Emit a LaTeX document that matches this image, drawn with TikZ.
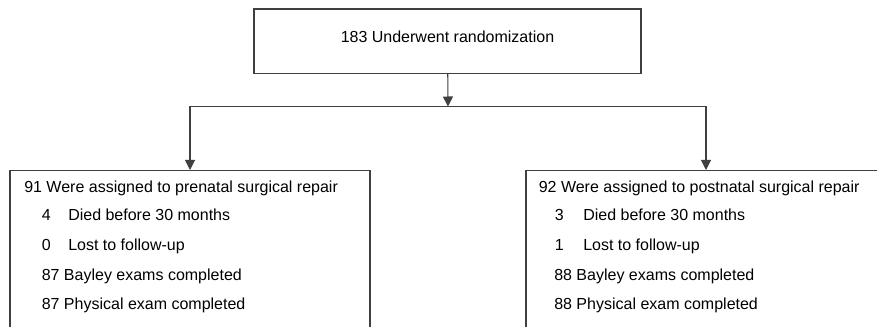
\documentclass[tikz,border=0pt]{standalone}
\usepackage{fontspec}
\setmainfont{Liberation Sans}
\usetikzlibrary{arrows.meta}
\tikzset{
  box/.style={draw=black!75, line width=0.8pt},
  arr/.style={draw=black!75, line width=0.8pt, -{Triangle[length=7.5pt,width=7.5pt]}},
  txt/.style={anchor=base west, inner sep=0pt},
}
\begin{document}
\begin{tikzpicture}[x=0.75pt, y=-0.75pt, font=\fontsize{12}{14}\selectfont]
\useasboundingbox (0,0) rectangle (877,327);
\clip (0,0) rectangle (877,327);
% top box
\node (rand)[box, minimum width=290.25pt, minimum height=48.4pt, text height=8pt, text depth=6.125pt] at (447.5,41.25) {183 Underwent randomization};

\coordinate (split) at (448,106.5);
\coordinate (splitL) at (190,106.5);
\coordinate (splitR) at (706,106.5);

% the two arms (cut off by the page)
\node (pre)[box, anchor=north, minimum width=270pt, minimum height=135pt] at (190,170) {};
\node (post)[box, anchor=north, minimum width=270pt, minimum height=135pt] at (706,170) {};

\node (pre0)[txt] at (24,192.5) {91 Were assigned to prenatal surgical repair};
\node (pre1n)[txt] at (41.5,221) {4};
\node (pre1)[txt] at (68,221) {Died before 30 months};
\node (pre2n)[txt] at (41.5,251) {0};
\node (pre2)[txt] at (68,251) {Lost to follow-up};
\node (pre3)[txt] at (41.5,280.5) {87 Bayley exams completed};
\node (pre4)[txt] at (41.5,309.5) {87 Physical exam completed};

\node (post0)[txt] at (538.5,192.5) {92 Were assigned to postnatal surgical repair};
\node (post1n)[txt] at (554.5,221) {3};
\node (post1)[txt] at (583,221) {Died before 30 months};
\node (post2n)[txt] at (554.5,251) {1};
\node (post2)[txt] at (583,251) {Lost to follow-up};
\node (post3)[txt] at (554,280.5) {88 Bayley exams completed};
\node (post4)[txt] at (554,309.5) {88 Physical exam completed};

\draw[arr] (rand) -- (split);
\draw[box] (splitL) -- (splitR);
\draw[arr] (splitL) -- (pre);
\draw[arr] (splitR) -- (post);
\end{tikzpicture}
\end{document}
